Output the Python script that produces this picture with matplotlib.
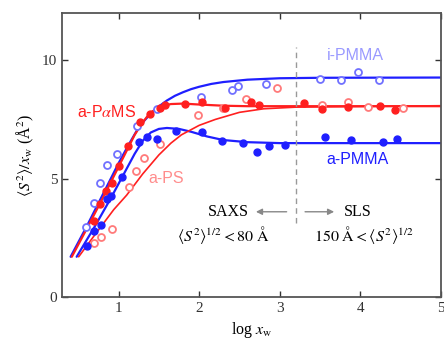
import numpy as np
import matplotlib
matplotlib.use("Agg")
import matplotlib.pyplot as plt

plt.rcParams['mathtext.fontset'] = 'stix'
plt.rcParams['font.family'] = ['Liberation Serif', 'DejaVu Serif']

# measured points (log x_w, <S^2>/x_w)
ipmma_x = [0.595, 0.698, 0.769, 0.86, 0.975, 1.223, 1.471, 2.02, 2.409, 2.48, 2.835, 3.496, 3.76, 3.975, 4.227]
ipmma_y = [2.94, 3.95, 4.83, 5.59, 6.05, 7.23, 7.94, 8.46, 8.73, 8.93, 9.0, 9.22, 9.15, 9.52, 9.15]

aps_x = [0.698, 0.78, 0.913, 1.132, 1.215, 1.32, 1.51, 1.98, 2.29, 2.58, 2.96, 3.53, 3.85, 4.09, 4.53]
aps_y = [2.29, 2.54, 2.88, 4.63, 5.32, 5.86, 6.45, 7.70, 8.0, 8.36, 8.84, 8.12, 8.23, 8.02, 7.98]

apams_x = [0.694, 0.769, 0.843, 0.913, 1.008, 1.12, 1.264, 1.388, 1.52, 1.58, 1.826, 2.03, 2.32, 2.64, 2.74,
           3.30, 3.53, 3.85, 4.24, 4.43]
apams_y = [3.22, 3.93, 4.49, 4.80, 5.54, 6.38, 7.40, 7.74, 7.98, 8.11, 8.16, 8.23, 7.99, 8.22, 8.12,
           8.19, 7.95, 8.02, 8.08, 7.91]

apmma_x = [0.603, 0.698, 0.78, 0.851, 0.905, 1.045, 1.256, 1.347, 1.471, 1.707, 2.03, 2.28, 2.55, 2.715, 2.87,
           3.07, 3.56, 3.88, 4.28, 4.45]
apmma_y = [2.15, 2.80, 3.04, 4.12, 4.27, 5.08, 6.53, 6.75, 6.67, 7.02, 6.98, 6.57, 6.50, 6.14, 6.38,
           6.41, 6.74, 6.64, 6.55, 6.67]

# fitted curves
ipmma_fx = [0.405, 0.6, 0.8, 1.0, 1.12, 1.23, 1.32, 1.4, 1.5, 1.6, 1.7, 1.8, 1.9, 2.0, 2.15, 2.3, 2.6, 3.0, 3.5, 5.0]
ipmma_fy = [1.7, 2.95, 4.3, 5.65, 6.4, 7.05, 7.45, 7.75, 8.05, 8.3, 8.5, 8.65, 8.78, 8.88, 9.0, 9.08, 9.18, 9.24, 9.26, 9.27]

apams_fx = [0.42, 0.6, 0.8, 1.0, 1.2, 1.28, 1.35, 1.42, 1.5, 1.58, 1.65, 1.8, 2.0, 2.3, 2.6, 5.0]
apams_fy = [1.7, 2.85, 4.15, 5.5, 6.85, 7.28, 7.6, 7.84, 8.0, 8.1, 8.15, 8.17, 8.13, 8.08, 8.06, 8.06]

apmma_fx = [0.48, 0.7, 0.9, 1.05, 1.2, 1.3, 1.4, 1.5, 1.6, 1.75, 1.9, 2.1, 2.3, 2.6, 3.0, 5.0]
apmma_fy = [1.7, 2.95, 4.15, 5.1, 6.05, 6.6, 6.95, 7.1, 7.14, 7.1, 6.98, 6.78, 6.63, 6.54, 6.5, 6.5]

aps_fx = [0.505, 0.7, 0.94, 1.1, 1.3, 1.5, 1.65, 1.78, 2.0, 2.2, 2.5, 2.8, 3.2, 5.0]
aps_fy = [1.7, 2.6, 3.69, 4.3, 5.2, 6.0, 6.5, 6.85, 7.25, 7.5, 7.8, 7.95, 8.02, 8.08]

blue = '#1f1fff'
red = '#ff1f1f'
lblue = '#7070ff'
pink = '#ff7a7a'

fig = plt.figure(figsize=(4.44, 3.40), dpi=100)
ax = fig.add_axes([0.14, 0.1265, 0.853, 0.8355])

line_kw = dict(solid_joinstyle='round', solid_capstyle='round')
ax.plot(ipmma_fx, ipmma_fy, '-', color=blue, lw=1.6, **line_kw)
ax.plot(apams_fx, apams_fy, '-', color=red, lw=1.6, **line_kw)
ax.plot(apmma_fx, apmma_fy, '-', color=blue, lw=1.6, **line_kw)
ax.plot(aps_fx, aps_fy, '-', color=red, lw=1.2, **line_kw)

ax.plot(ipmma_x, ipmma_y, 'o', mfc='white', mec=lblue, mew=1.3, ms=5)
ax.plot(aps_x, aps_y, 'o', mfc='white', mec=pink, mew=1.3, ms=5)
ax.plot(apams_x, apams_y, 'o', color=red, ms=5)
ax.plot(apmma_x, apmma_y, 'o', color=blue, ms=5)

ax.plot([3.2, 3.2], [3.13, 10.55], '--', color='#999999', lw=1.0, dashes=(4, 3))

sans = ['Liberation Sans', 'DejaVu Sans']
ax.text(3.94, 10.2, 'i-PMMA', color='#9a9aff', family=sans, fontsize=11.5, ha='center', va='center')
ax.text(0.855, 7.8, r'a-P$\alpha$MS', color=red, family=sans, fontsize=11.5, ha='center', va='center')
ax.text(1.59, 5.0, 'a-PS', color='#ff8c8c', family=sans, fontsize=11.5, ha='center', va='center')
ax.text(3.97, 5.8, 'a-PMMA', color=blue, family=sans, fontsize=11.5, ha='center', va='center')

ax.text(2.36, 3.6, 'SAXS', fontsize=11.5, ha='center', va='center')
ax.text(3.97, 3.6, 'SLS', fontsize=11.5, ha='center', va='center')
ax.annotate('', xy=(2.67, 3.6), xytext=(3.12, 3.6),
            arrowprops=dict(arrowstyle='-|>', color='#888888', lw=1.0, mutation_scale=9))
ax.annotate('', xy=(3.71, 3.6), xytext=(3.28, 3.6),
            arrowprops=dict(arrowstyle='-|>', color='#888888', lw=1.0, mutation_scale=9))
ax.text(2.30, 2.6, r'$\langle S^2\rangle^{1/2} < 80\ \mathrm{\AA}$', fontsize=11.5, ha='center', va='center')
ax.text(4.05, 2.6, r'$150\ \mathrm{\AA} < \langle S^2\rangle^{1/2}$', fontsize=11.5, ha='center', va='center')

ax.set_xlim(0.3, 5)
ax.set_ylim(0, 12)
ax.set_xticks([1, 2, 3, 4, 5])
ax.set_yticks([0, 5, 10])
ax.tick_params(direction='in', top=True, right=True, length=4, width=1, labelsize=11, colors='#333333')
for s in ax.spines.values():
    s.set_color('#555555')
    s.set_linewidth(1.3)

ax.set_xlabel(r'log $x_{\mathrm{w}}$', fontsize=11.5)
ax.set_ylabel(r'$\langle S^2\rangle/x_{\mathrm{w}}$ (Å$^2$)', fontsize=11.5)

fig.savefig('out.png', dpi=100)
